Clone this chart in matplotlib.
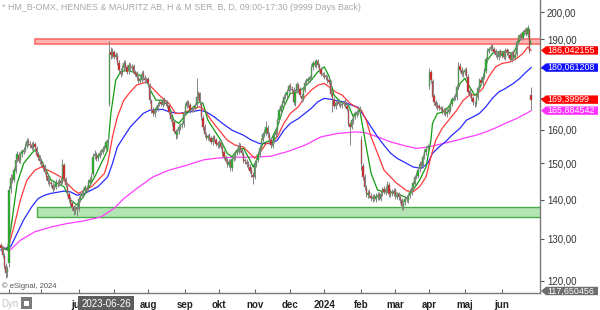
import matplotlib
matplotlib.use("Agg")
import matplotlib.pyplot as plt
import pandas as pd
from matplotlib.patches import Rectangle, Polygon
from matplotlib.transforms import IdentityTransform, blended_transform_factory
from matplotlib.ticker import FixedLocator, FixedFormatter, NullLocator

plt.rcParams['font.family'] = ['Liberation Sans', 'DejaVu Sans']

title = "* HM_B-OMX, HENNES & MAURITZ AB, H & M SER. B, D, 09:00-17:30 (9999 Days Back)"
copyright_text = "\u00a9 eSignal, 2024"
crosshair_date = "2023-06-26"
dates = pd.bdate_range("2023-03-27", "2024-06-27")
month_names = ['2024', 'feb', 'mar', 'apr', 'maj', 'jun', 'jul', 'aug', 'sep', 'okt', 'nov', 'dec']
hidden_month_labels = ['2023-04', '2023-05', '2023-07']

opens = [
    128.4, 127.6, 125.8, 123.3, 121.9, 124.0, 142.8, 146.2, 145.4, 148.0,
    151.2, 152.4, 150.9, 152.6, 153.4, 154.0, 155.0, 156.7, 155.8, 155.4,
    154.5, 155.7, 154.6, 152.6, 151.6, 150.7, 149.7, 149.1, 147.5, 146.4,
    145.1, 144.5, 144.1, 143.1, 143.5, 144.6, 144.3, 145.2, 144.8, 149.6,
    145.5, 143.8, 141.6, 140.4, 139.0, 138.0, 137.0, 137.9, 137.6, 140.0,
    141.1, 141.8, 142.6, 143.2, 142.9, 144.6, 145.5, 147.0, 152.2, 152.5,
    151.5, 152.2, 153.1, 153.4, 154.3, 154.6, 156.1, 168.0, 185.6, 184.2,
    185.4, 183.9, 184.2, 181.8, 179.0, 178.2, 179.8, 181.8, 180.2, 178.8,
    180.8, 180.0, 180.6, 178.4, 178.1, 176.6, 175.6, 176.0, 178.2, 176.6,
    175.8, 176.2, 174.0, 168.8, 166.2, 164.8, 166.2, 166.4, 168.0, 168.6,
    167.8, 169.4, 168.2, 168.6, 167.2, 165.5, 163.1, 162.2, 159.5, 158.4,
    159.6, 160.6, 161.4, 161.6, 165.2, 167.3, 168.6, 167.6, 166.0, 166.4,
    166.6, 167.6, 170.1, 171.4, 168.0, 163.6, 160.9, 158.4, 157.6, 158.2,
    157.4, 156.2, 157.8, 156.8, 155.9, 155.2, 156.2, 154.7, 153.2, 151.8,
    150.9, 149.6, 150.7, 148.7, 151.4, 151.8, 153.0, 153.4, 155.2, 153.8,
    152.8, 150.9, 150.4, 149.9, 149.0, 148.2, 146.8, 146.3, 149.6, 151.0,
    152.6, 154.3, 157.0, 158.4, 159.0, 160.6, 158.4, 157.0, 155.2, 156.6,
    158.4, 159.5, 163.0, 165.8, 167.4, 168.3, 170.5, 170.8, 172.2, 173.9,
    173.0, 172.6, 168.3, 172.2, 174.2, 172.8, 170.7, 169.7, 172.6, 175.2,
    175.5, 176.0, 177.0, 180.2, 181.8, 180.8, 182.4, 180.8, 179.6, 177.8,
    177.7, 177.2, 176.6, 175.9, 175.0, 171.5, 169.4, 167.3, 168.4, 168.7,
    167.8, 167.6, 168.2, 168.7, 167.4, 166.0, 161.6, 160.9, 162.6, 164.2,
    164.8, 165.4, 166.7, 157.0, 149.4, 146.3, 143.1, 141.3, 142.0, 141.0,
    140.2, 140.8, 140.1, 140.7, 141.4, 140.3, 141.8, 142.8, 142.0, 142.7,
    144.1, 141.3, 142.2, 141.6, 142.6, 140.8, 141.4, 140.8, 139.8, 138.0,
    139.4, 140.5, 139.9, 141.2, 142.0, 143.4, 144.3, 146.3, 146.6, 148.3,
    150.0, 149.3, 152.2, 153.2, 154.5, 173.7, 178.4, 175.5, 170.5, 168.6,
    167.7, 167.2, 166.6, 166.7, 165.3, 166.2, 164.8, 165.6, 166.2, 168.0,
    169.8, 170.2, 170.2, 174.0, 180.6, 179.4, 177.8, 178.4, 179.4, 177.0,
    172.3, 171.2, 169.8, 168.3, 168.0, 170.1, 173.4, 175.9, 174.8, 177.0,
    179.0, 183.2, 185.8, 186.6, 187.5, 186.6, 185.7, 184.2, 183.6, 185.7,
    184.2, 185.4, 183.5, 186.2, 185.6, 184.6, 182.8, 185.4, 183.5, 184.8,
    188.7, 190.6, 191.7, 190.4, 192.6, 193.6, 192.0, 193.5, 171.0,
]
highs = [
    129.0, 128.2, 126.4, 124.0, 123.3, 143.6, 147.0, 147.1, 149.0, 151.8,
    153.5, 153.2, 153.4, 154.3, 154.7, 155.9, 157.6, 157.5, 156.6, 156.2,
    156.6, 156.4, 155.2, 153.3, 152.3, 151.4, 150.5, 149.8, 148.1, 147.0,
    145.9, 145.2, 144.8, 144.2, 145.6, 145.4, 146.0, 145.9, 151.2, 150.2,
    146.2, 144.5, 142.3, 141.0, 139.8, 138.7, 138.6, 138.6, 140.9, 141.8,
    142.6, 143.2, 144.0, 143.9, 145.5, 146.1, 147.2, 152.9, 153.8, 153.2,
    153.0, 153.8, 154.3, 155.0, 155.5, 157.0, 157.8, 189.5, 187.2, 187.0,
    186.3, 185.4, 185.0, 182.6, 180.0, 180.8, 182.6, 182.7, 181.0, 181.9,
    181.8, 181.2, 181.3, 179.2, 179.0, 177.4, 177.0, 178.9, 179.4, 177.4,
    176.8, 176.9, 174.8, 169.6, 167.0, 166.8, 167.4, 168.5, 169.3, 169.4,
    170.0, 170.1, 169.2, 169.3, 167.9, 166.2, 163.9, 162.9, 160.2, 160.1,
    161.6, 162.0, 162.6, 165.8, 168.3, 169.2, 169.4, 168.3, 167.0, 167.5,
    168.3, 176.5, 172.2, 172.0, 168.7, 164.4, 161.6, 159.2, 158.8, 158.9,
    158.1, 158.3, 158.5, 157.5, 156.6, 156.8, 156.9, 155.4, 153.9, 152.5,
    151.6, 151.2, 151.4, 152.0, 152.8, 153.5, 154.4, 156.3, 155.9, 154.6,
    153.5, 151.7, 151.2, 150.6, 149.8, 149.0, 147.6, 150.6, 151.6, 153.5,
    155.3, 157.6, 159.4, 160.1, 162.5, 161.4, 159.2, 157.8, 157.6, 159.0,
    160.6, 163.6, 166.8, 168.0, 169.3, 171.1, 171.9, 172.8, 174.6, 174.8,
    173.8, 173.4, 172.8, 175.2, 175.0, 173.6, 171.5, 173.6, 175.8, 176.5,
    177.0, 177.6, 181.2, 182.5, 182.6, 183.1, 183.2, 181.6, 180.4, 178.6,
    178.5, 178.0, 177.4, 176.7, 175.8, 172.3, 170.2, 169.0, 169.3, 169.5,
    168.6, 168.8, 169.3, 169.5, 168.2, 166.8, 162.4, 163.6, 164.8, 165.8,
    166.1, 167.3, 167.5, 158.0, 150.2, 147.1, 143.9, 142.6, 142.8, 141.8,
    141.4, 141.6, 141.7, 142.0, 142.1, 142.4, 143.4, 143.6, 143.6, 145.2,
    144.8, 142.8, 142.9, 143.1, 143.2, 142.0, 142.1, 141.5, 140.4, 139.9,
    141.0, 141.2, 141.7, 142.9, 143.9, 145.2, 146.8, 147.6, 148.9, 150.6,
    150.8, 152.8, 154.1, 155.0, 155.8, 180.0, 179.2, 176.3, 171.3, 169.4,
    168.5, 168.0, 167.4, 167.5, 166.8, 167.0, 166.3, 167.2, 169.0, 170.4,
    170.8, 171.2, 174.4, 182.0, 181.6, 180.2, 179.4, 180.0, 180.2, 177.8,
    173.1, 172.0, 170.6, 169.1, 171.1, 174.0, 176.5, 176.7, 177.6, 180.0,
    183.8, 186.8, 187.4, 188.3, 188.4, 187.4, 186.5, 185.0, 186.3, 186.5,
    186.0, 186.2, 186.8, 187.0, 186.4, 185.4, 186.0, 186.2, 185.4, 189.7,
    191.6, 192.3, 192.5, 193.6, 194.3, 194.4, 195.3, 194.2, 173.5,
]
lows = [
    127.0, 125.3, 122.6, 120.6, 120.9, 123.2, 141.8, 144.6, 144.8, 147.3,
    150.5, 150.0, 150.2, 151.9, 152.8, 153.3, 154.4, 155.2, 154.6, 153.8,
    153.8, 154.0, 151.8, 151.0, 149.8, 149.2, 148.2, 146.9, 145.4, 144.2,
    143.8, 143.5, 142.2, 142.5, 142.9, 143.5, 143.6, 143.9, 144.2, 145.0,
    143.3, 141.0, 139.5, 138.2, 137.4, 136.0, 136.2, 135.8, 137.0, 139.4,
    140.4, 141.1, 141.9, 142.1, 142.3, 143.9, 144.8, 146.5, 151.4, 150.7,
    150.8, 151.5, 152.4, 152.7, 153.6, 153.9, 155.4, 167.2, 183.2, 183.4,
    183.0, 183.1, 180.8, 178.4, 177.0, 177.4, 179.0, 179.6, 177.8, 178.0,
    179.3, 179.2, 177.8, 177.2, 176.0, 174.7, 174.8, 175.2, 176.0, 174.9,
    175.0, 174.0, 168.4, 165.2, 164.1, 164.0, 165.5, 165.7, 167.2, 167.2,
    167.0, 167.6, 167.5, 166.8, 164.7, 162.6, 161.1, 158.9, 157.2, 157.6,
    158.8, 159.9, 160.6, 160.9, 164.5, 166.6, 167.0, 165.2, 165.3, 165.6,
    165.9, 166.9, 169.4, 167.8, 163.0, 159.9, 157.8, 156.8, 156.8, 156.7,
    155.6, 155.5, 156.2, 155.0, 154.6, 154.5, 154.1, 152.2, 151.3, 150.0,
    149.0, 148.9, 148.0, 148.0, 150.7, 151.0, 152.3, 152.7, 153.2, 152.3,
    150.0, 149.8, 149.0, 148.4, 147.2, 146.2, 144.3, 145.6, 148.9, 150.3,
    151.9, 153.6, 156.2, 157.7, 158.3, 157.8, 156.0, 154.6, 154.4, 155.9,
    157.6, 158.8, 162.2, 165.0, 166.6, 167.6, 169.7, 170.0, 171.5, 172.3,
    171.6, 167.6, 167.5, 171.5, 171.8, 170.1, 168.6, 169.0, 171.8, 174.4,
    174.7, 175.2, 176.2, 179.4, 180.2, 180.0, 180.2, 178.6, 177.2, 176.7,
    176.2, 176.0, 174.9, 174.4, 170.5, 165.4, 166.7, 166.5, 167.6, 167.2,
    166.6, 166.8, 167.4, 166.8, 165.7, 161.0, 155.5, 160.1, 161.8, 163.4,
    164.0, 164.6, 165.2, 148.2, 145.3, 142.5, 140.7, 140.5, 140.4, 139.6,
    139.4, 139.6, 139.4, 140.0, 139.8, 139.6, 141.0, 141.5, 141.2, 142.0,
    140.8, 140.6, 141.0, 140.9, 140.3, 140.1, 139.9, 139.2, 137.4, 137.3,
    138.7, 139.4, 139.2, 140.5, 141.3, 142.7, 143.6, 145.5, 145.9, 147.6,
    148.7, 148.6, 151.4, 152.5, 153.8, 172.9, 175.0, 169.5, 167.7, 166.7,
    166.2, 166.0, 165.7, 164.7, 164.5, 164.2, 163.9, 164.8, 165.4, 167.2,
    169.0, 169.4, 169.4, 173.2, 178.4, 177.2, 177.0, 177.6, 176.4, 171.2,
    170.2, 168.8, 167.7, 166.9, 167.2, 169.3, 172.6, 174.2, 174.0, 176.2,
    178.2, 182.4, 185.0, 185.8, 186.0, 184.7, 183.6, 183.0, 182.8, 183.6,
    183.4, 182.9, 182.7, 184.6, 183.6, 182.2, 182.0, 182.9, 182.7, 184.0,
    188.0, 189.8, 189.8, 189.6, 191.8, 191.4, 191.2, 185.2, 166.0,
]
closes = [
    127.8, 126.0, 123.5, 121.8, 122.6, 142.5, 146.0, 145.5, 148.2, 151.0,
    152.6, 150.8, 152.8, 153.5, 153.9, 155.2, 156.6, 156.0, 155.3, 154.6,
    155.8, 154.8, 152.5, 151.8, 150.6, 149.9, 149.0, 147.6, 146.2, 145.0,
    144.6, 144.2, 143.0, 143.4, 144.8, 144.2, 145.3, 144.6, 149.8, 145.6,
    144.0, 141.8, 140.2, 138.9, 138.1, 136.9, 137.8, 137.5, 140.2, 141.0,
    141.9, 142.5, 143.3, 142.8, 144.8, 145.4, 146.5, 152.0, 152.6, 151.4,
    152.3, 153.0, 153.5, 154.2, 154.7, 156.3, 157.0, 185.3, 184.4, 185.6,
    183.8, 184.4, 181.6, 179.2, 178.0, 180.0, 181.6, 180.4, 178.6, 181.0,
    180.2, 180.4, 178.6, 178.0, 176.8, 175.5, 176.2, 178.0, 176.8, 175.7,
    176.0, 174.7, 169.2, 166.0, 165.0, 166.0, 166.6, 167.8, 168.5, 168.0,
    169.2, 168.4, 168.5, 167.5, 165.4, 163.3, 162.0, 159.7, 158.6, 159.4,
    160.8, 161.2, 161.8, 165.0, 167.5, 168.5, 167.8, 166.0, 166.2, 166.8,
    167.5, 170.3, 171.3, 168.5, 163.8, 160.7, 158.6, 157.5, 158.0, 157.5,
    156.4, 157.6, 157.0, 155.8, 155.4, 156.0, 154.9, 153.0, 152.0, 150.8,
    149.8, 150.5, 148.9, 151.3, 152.0, 152.8, 153.6, 155.0, 154.0, 153.0,
    150.8, 150.6, 149.8, 149.2, 148.0, 147.0, 146.1, 149.8, 150.8, 152.8,
    154.5, 156.8, 158.6, 159.2, 160.8, 158.6, 156.8, 155.4, 156.8, 158.2,
    159.7, 162.8, 166.0, 167.2, 168.5, 170.3, 171.0, 172.0, 173.7, 173.2,
    172.4, 168.5, 172.0, 174.4, 172.6, 170.9, 169.5, 172.8, 175.0, 175.7,
    176.2, 176.8, 180.4, 181.6, 181.0, 182.2, 181.0, 179.4, 178.0, 177.5,
    177.0, 176.8, 175.7, 175.2, 171.3, 169.6, 167.5, 168.2, 168.5, 168.0,
    167.4, 168.0, 168.5, 167.6, 166.5, 161.8, 160.7, 162.8, 164.0, 165.0,
    165.3, 166.5, 166.0, 149.8, 146.1, 143.3, 141.5, 141.8, 141.2, 140.4,
    140.6, 140.3, 140.9, 141.2, 140.5, 141.6, 142.6, 142.2, 142.9, 144.3,
    141.5, 142.0, 141.8, 142.4, 141.0, 141.2, 140.6, 140.0, 138.2, 139.2,
    140.3, 140.1, 141.0, 142.2, 143.2, 144.5, 146.1, 146.8, 148.1, 149.8,
    149.5, 152.0, 153.4, 154.3, 155.0, 178.6, 175.7, 170.3, 168.5, 167.5,
    167.0, 166.8, 166.5, 165.5, 166.0, 165.0, 165.5, 166.4, 168.2, 169.6,
    170.0, 170.4, 173.6, 180.4, 179.2, 178.0, 178.6, 179.2, 177.2, 172.0,
    171.0, 169.6, 168.5, 168.2, 170.3, 173.2, 175.7, 175.0, 176.8, 179.2,
    183.0, 186.0, 186.4, 187.3, 186.8, 185.5, 184.4, 183.8, 185.5, 184.4,
    185.2, 183.7, 186.0, 185.4, 184.4, 183.0, 185.2, 183.7, 184.6, 188.9,
    190.8, 191.5, 190.6, 192.8, 193.4, 192.2, 194.2, 186.0, 169.4,
]

# moving averages (bar number, value)
fast_ma_day = [0, 4, 6, 8, 10, 14, 19, 21, 24, 27, 31, 35, 39, 43, 47, 51, 54, 58, 62, 66,
               68, 71, 74, 78, 84, 90, 93, 96, 100, 104, 107, 110, 115, 119, 123, 125, 128,
               132, 136, 140, 143, 146, 150, 154, 156, 159, 162, 167, 171, 175, 179, 184,
               188, 192, 196, 200, 203, 206, 210, 215, 218, 221, 222, 226, 229, 233, 237,
               241, 245, 251, 255, 259, 263, 266, 267, 270, 274, 277, 281, 284, 287, 290,
               293, 295, 298, 301, 304, 308, 312, 317, 321, 325, 326, 328]
fast_ma = [128.0, 127.2, 132.1, 138.1, 144.4, 150.0, 152.9, 153.9, 151.9, 149.0, 145.3,
           144.4, 143.5, 139.9, 138.6, 140.8, 143.0, 146.2, 150.0, 153.9, 165.0, 175.8,
           178.6, 179.2, 178.1, 175.8, 171.9, 169.2, 169.2, 167.1, 162.9, 161.9, 165.0,
           167.1, 168.7, 168.2, 162.9, 159.8, 156.8, 152.9, 151.9, 153.9, 154.4, 151.0,
           149.0, 151.9, 155.8, 156.8, 160.8, 167.1, 171.4, 171.9, 173.6, 175.8, 178.6,
           180.3, 177.1, 170.9, 168.7, 167.6, 163.9, 165.5, 166.0, 154.8, 147.2, 142.6,
           142.1, 142.1, 141.7, 140.5, 142.6, 145.3, 149.0, 156.8, 161.9, 165.0, 165.5,
           167.1, 170.3, 174.7, 176.4, 173.6, 170.9, 171.4, 175.8, 182.6, 185.0, 185.6,
           185.6, 185.0, 189.7, 192.8, 192.1, 188.3]

mid_ma_day = [0, 4, 8, 12, 16, 21, 25, 29, 33, 37, 41, 45, 48, 52, 56, 60, 64, 66, 69, 72,
              76, 80, 84, 90, 94, 99, 104, 108, 112, 117, 123, 126, 130, 135, 140, 145, 150,
              154, 157, 160, 164, 167, 171, 175, 179, 184, 188, 192, 196, 200, 203, 207,
              211, 216, 220, 223, 226, 229, 233, 237, 241, 245, 251, 255, 259, 263, 266,
              269, 273, 277, 282, 286, 290, 294, 298, 302, 306, 310, 315, 319, 323, 326, 328]
mid_ma = [128.0, 127.2, 132.9, 139.9, 145.3, 148.1, 149.0, 148.1, 147.2, 146.2, 144.4,
          142.6, 141.7, 142.6, 143.5, 145.3, 147.2, 150.0, 157.8, 163.9, 169.2, 171.9,
          174.2, 175.2, 173.0, 170.3, 168.2, 165.0, 165.0, 166.0, 167.1, 166.0, 162.9,
          159.8, 156.8, 155.3, 154.8, 152.9, 151.5, 152.9, 155.8, 156.0, 157.8, 161.9,
          165.0, 167.1, 170.3, 172.5, 174.1, 174.7, 173.6, 171.9, 170.9, 168.2, 166.9,
          166.0, 162.9, 157.8, 152.9, 148.1, 146.2, 144.4, 142.4, 142.1, 143.5, 146.2,
          151.9, 156.8, 160.4, 162.9, 166.0, 169.2, 170.9, 170.9, 173.0, 177.1, 180.3,
          181.5, 182.0, 183.2, 185.0, 187.3, 186.042155]

slow_ma_day = [0, 6, 10, 14, 19, 23, 27, 31, 35, 39, 43, 47, 52, 56, 60, 64, 66, 69, 72, 76,
               80, 84, 88, 92, 100, 104, 110, 117, 123, 127, 132, 137, 143, 150, 155, 160,
               164, 167, 171, 175, 179, 184, 188, 192, 196, 200, 204, 208, 212, 217, 221,
               225, 229, 233, 237, 241, 245, 251, 255, 260, 264, 267, 271, 275, 279, 284,
               288, 292, 296, 300, 304, 308, 312, 317, 321, 325, 328]
slow_ma = [127.2, 128.0, 131.3, 134.7, 138.1, 140.3, 141.2, 141.7, 142.0, 142.3, 142.1,
           141.2, 141.7, 142.6, 143.5, 145.3, 146.2, 150.0, 154.8, 157.8, 160.8, 162.9,
           165.0, 166.0, 166.3, 165.5, 165.0, 165.5, 166.0, 165.5, 163.9, 161.9, 159.8,
           158.3, 156.8, 155.8, 155.8, 155.8, 156.8, 159.8, 161.9, 163.4, 165.0, 166.6,
           168.7, 169.8, 169.5, 169.0, 168.7, 167.6, 166.9, 163.9, 160.8, 157.8, 155.3,
           153.0, 151.5, 150.0, 149.0, 148.6, 150.0, 152.9, 154.8, 156.3, 158.3, 160.4,
           162.9, 163.9, 165.0, 167.1, 169.8, 171.9, 173.0, 174.7, 176.4, 178.6, 180.061208]

long_ma_day = [0, 6, 12, 21, 31, 41, 52, 62, 70, 76, 84, 94, 104, 115, 125, 135, 145, 156,
               167, 177, 188, 198, 208, 219, 225, 233, 241, 251, 257, 263, 269, 275, 282,
               288, 294, 300, 306, 312, 319, 325, 328]
long_ma = [128.0, 127.3, 129.6, 131.7, 132.9, 133.8, 134.5, 135.5, 137.7, 140.3, 143.0,
           146.2, 148.1, 149.5, 151.0, 151.6, 151.8, 151.8, 152.1, 153.4, 155.3, 157.8,
           158.8, 159.3, 159.1, 157.8, 156.3, 155.0, 154.4, 154.7, 155.3, 156.0, 156.8,
           157.6, 158.3, 159.3, 160.5, 161.9, 163.4, 165.0, 165.884542]

resistance_band = (188.2, 190.0)
resistance_start_day = 21
support_band = (135.4, 138.1)
support_start_day = 22

price_ticks = [120, 130, 140, 150, 160, 170, 180, 190, 200]
tag_values = [186.042155, 180.061208, 169.39999, 165.884542, 117.650456]
tag_texts = ["186,042155", "180,061208", "169,39999", "165,884542", "117,650456"]
tag_colors = ["#ff0000", "#1010ff", "#ff0000", "#ff33ff", "#6e6e6e"]

# ---------------------------------------------------------------------------
W, H = 600, 310
n = min(len(dates), len(opens), len(highs), len(lows), len(closes))
xs = list(range(n))

fig = plt.figure(figsize=(W / 100, H / 100), dpi=100)
fig.patch.set_facecolor('white')
ax = fig.add_axes([0, 17 / H, 540 / W, 293 / H])
ax.set_facecolor('white')
ax.set_yscale('log')
ax.set_ylim(117.2, 204.8)
ax.set_xlim(-0.6, 333.5)

for s in ['left', 'top']:
    ax.spines[s].set_visible(False)
for s in ['right', 'bottom']:
    ax.spines[s].set_color('#7a7a7a')
    ax.spines[s].set_linewidth(1.0)

# bands
ax.add_patch(Rectangle((resistance_start_day, resistance_band[0]), 500,
                       resistance_band[1] - resistance_band[0],
                       fc='#ffb3b3', ec='#ff6a6a', lw=1.2, zorder=2))
ax.add_patch(Rectangle((support_start_day, support_band[0]), 500,
                       support_band[1] - support_band[0],
                       fc='#b4e4b4', ec='#48ad48', lw=1.0, zorder=2))

# moving averages
ax.plot(long_ma_day, long_ma, color='#ff3cff', lw=0.9, zorder=3)
ax.plot(slow_ma_day, slow_ma, color='#2a2aff', lw=0.9, zorder=3)
ax.plot(mid_ma_day, mid_ma, color='#ff3a3a', lw=0.9, zorder=3)
ax.plot(fast_ma_day, fast_ma, color='#119c11', lw=0.9, zorder=3)

# candles
o = opens[:n]; h = highs[:n]; l = lows[:n]; c = closes[:n]
ax.vlines(xs, l, h, color='#858585', lw=0.7, zorder=4)
bottoms = [min(a, b) for a, b in zip(o, c)]
heights = [max(abs(b - a), 0.15) for a, b in zip(o, c)]
cols = ['#12b312' if b >= a else '#e01010' for a, b in zip(o, c)]
ax.bar(xs, heights, bottom=bottoms, width=0.8, color=cols,
       edgecolor='#858585', linewidth=0.35, zorder=5)

# y axis on the right; labels hidden where a value tag covers them
tag_px = [ax.transData.transform((0, v))[1] for v in tag_values]
ylabels = []
for v in price_ticks:
    yp = ax.transData.transform((0, v))[1]
    covered = any(abs(yp - tp) < 7 for tp in tag_px)
    ylabels.append('' if covered else f"{v:.2f}".replace('.', ','))
ax.yaxis.tick_right()
ax.yaxis.set_major_locator(FixedLocator(price_ticks))
ax.yaxis.set_major_formatter(FixedFormatter(ylabels))
ax.yaxis.set_minor_locator(NullLocator())
ax.tick_params(axis='y', direction='out', length=3, width=0.8, color='#555555',
               labelsize=7, labelcolor='#333333', pad=2)

# x axis month ticks
tick_pos, tick_lab = [], []
for i in range(n):
    if i == 0 or dates[i].month != dates[i - 1].month:
        if i == 0 and dates[i].day > 7:
            continue
        tick_pos.append(i)
        key = dates[i].strftime('%Y-%m')
        lab = month_names[dates[i].month - 1]
        tick_lab.append('' if key in hidden_month_labels else lab)
ax.xaxis.set_major_locator(FixedLocator(tick_pos))
ax.xaxis.set_major_formatter(FixedFormatter(tick_lab))
ax.xaxis.set_minor_locator(NullLocator())
ax.tick_params(axis='x', direction='in', length=3, width=0.8, color='#666666',
               labelsize=7, labelcolor='#222222', pad=5)
for t in ax.get_xticklabels():
    t.set_fontweight('bold')

# crosshair date label
ci = list(dates).index(pd.Timestamp(crosshair_date))
bt = blended_transform_factory(ax.transData, ax.transAxes)
ax.text(ci, -0.036, crosshair_date, transform=bt, ha='center', va='center',
        fontsize=7, color='white', zorder=20, clip_on=False,
        bbox=dict(boxstyle='square,pad=0.3', fc='#5e5e5e', ec='none'))

# texts
idt = IdentityTransform()
fig.text(2, H - 8, title, transform=idt, fontsize=6.4, color='#a8a8a8', va='center', ha='left')
fig.text(2, H - 286, copyright_text, transform=idt, fontsize=5.5, color='#555555', va='center', ha='left')
fig.text(1, H - 304, "Dyn", transform=idt, fontsize=7, color='#c4c4c4', va='center', ha='left')
fig.add_artist(Rectangle((21, H - 309), 11, 12, transform=idt, fc='#7a7a7a', ec='none'))
fig.add_artist(Rectangle((24, H - 306), 5, 5, transform=idt, fc='white', ec='none'))

# value tags
for y, t, col in zip(tag_px, tag_texts, tag_colors):
    x0, x1, hh = 541, 598, 4.2
    poly = Polygon([(x0, y), (x0 + 5, y + hh), (x1, y + hh), (x1, y - hh), (x0 + 5, y - hh)],
                   closed=True, transform=idt, fc=col, ec='none', zorder=10)
    fig.add_artist(poly)
    fig.text(x0 + 6, y, t, transform=idt, fontsize=6.4, color='white', va='center', ha='left', zorder=11)

fig.savefig('out.png', dpi=100)
